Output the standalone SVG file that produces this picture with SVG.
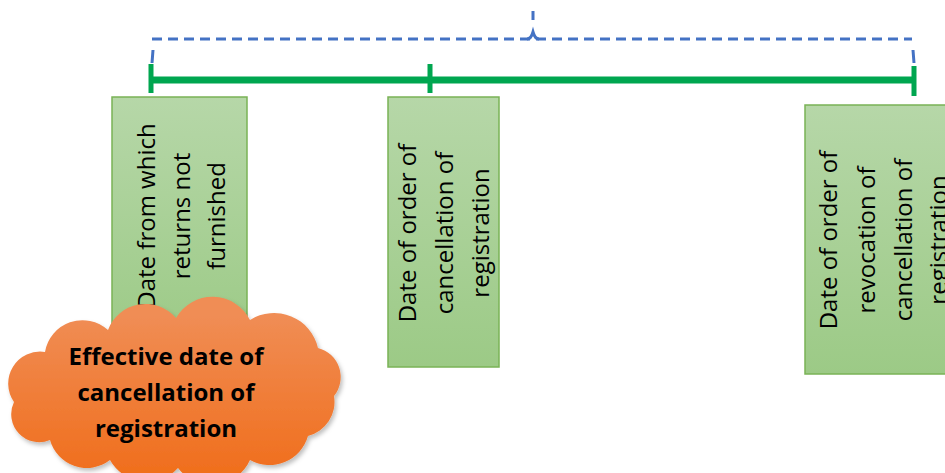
<svg xmlns="http://www.w3.org/2000/svg" width="945" height="473" viewBox="0 0 945 473">
<defs>
<linearGradient id="gbox" x1="0" y1="0" x2="0" y2="1">
<stop offset="0" stop-color="#b6d7a8"/>
<stop offset="1" stop-color="#9cca86"/>
</linearGradient>
<linearGradient id="gcloud" gradientUnits="userSpaceOnUse" x1="0" y1="315" x2="0" y2="470">
<stop offset="0" stop-color="#f08d55"/>
<stop offset="1" stop-color="#f06f1e"/>
</linearGradient>
<filter id="sh" x="-10%" y="-10%" width="130%" height="130%">
<feDropShadow dx="2" dy="3" stdDeviation="2" flood-color="#000" flood-opacity="0.25"/>
</filter>
</defs>
<style>
.box{fill:url(#gbox);stroke:#7ab356;stroke-width:1.5}
.vt{font-family:"Open Sans","Noto Sans",sans-serif;font-size:24px;fill:#000;text-anchor:middle}
.ct{font-family:"Open Sans","Noto Sans",sans-serif;font-size:24px;font-weight:bold;fill:#000;text-anchor:middle}
.green{stroke:#00a650;fill:none}
.blue{stroke:#4472c4;fill:none;stroke-width:3}
</style>
<g id="connectors">
<path class="blue" d="M152,39 H912" stroke-dasharray="10,6"/>
<path class="blue" d="M153,50 L152,63 M913,50 L914,63 M533,11 V20"/>
<path class="blue" d="M527,39 Q531,39 533,32 Q535,39 539,39" stroke-width="2.5"/>
<path class="green" stroke-width="7" d="M150,80 H913"/>
<path class="green" stroke-width="5" d="M151,64 V93 M430,64 V93 M914,66 V96"/>
</g>
<g id="node1">
<rect class="box" x="112" y="97" width="135" height="250"/>
<g transform="translate(182,216) rotate(-90)">
<text class="vt" x="0" y="-27">Date from which</text>
<text class="vt" x="0" y="8">returns not</text>
<text class="vt" x="0" y="43">furnished</text>
</g>
</g>
<g id="node2">
<rect class="box" x="388" y="97" width="111" height="270"/>
<g transform="translate(444,233) rotate(-90)">
<text class="vt" x="0" y="-28">Date of order of</text>
<text class="vt" x="0" y="9">cancellation of</text>
<text class="vt" x="0" y="45">registration</text>
</g>
</g>
<g id="node3">
<rect class="box" x="805" y="105" width="150" height="269"/>
<g transform="translate(884,240) rotate(-90)">
<text class="vt" x="0" y="-47">Date of order of</text>
<text class="vt" x="0" y="-9">revocation of</text>
<text class="vt" x="0" y="28">cancellation of</text>
<text class="vt" x="0" y="63">registration</text>
</g>
</g>
<g id="cloud">
<path filter="url(#sh)" fill="url(#gcloud)" d="M45,352 A38,38 0 0 1 108,330 A40,40 0 0 1 176,318 A42,42 0 0 1 250,320 A45,45 0 0 1 318,348 A30,30 0 0 1 334,396 A35,35 0 0 1 308,436 A40,40 0 0 1 250,460 A42,42 0 0 1 178,468 A42,42 0 0 1 110,460 A38,38 0 0 1 50,440 A28,28 0 0 1 14,402 A32,32 0 0 1 45,352 Z"/>
<text class="ct" x="166" y="365">Effective date of</text>
<text class="ct" x="166" y="401">cancellation of</text>
<text class="ct" x="166" y="437">registration</text>
</g>
</svg>
